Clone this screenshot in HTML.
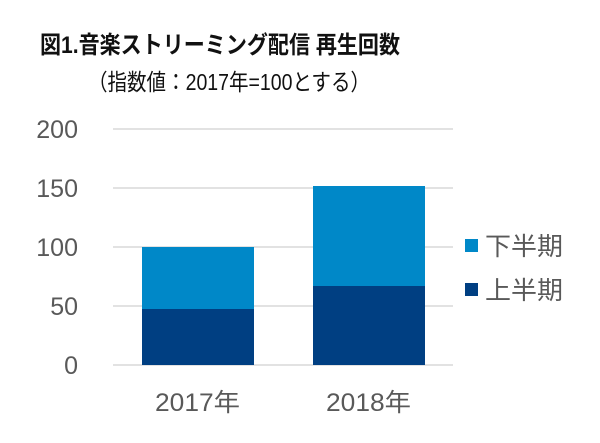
<!DOCTYPE html>
<html><head><meta charset="utf-8"><style>
body{margin:0;background:#fff;}
svg text{font-family:"Liberation Sans","Noto Sans CJK JP",sans-serif;}
</style></head><body>
<svg width="600" height="438" viewBox="0 0 600 438" xmlns="http://www.w3.org/2000/svg">
<rect width="600" height="438" fill="#fff"/>
<text x="40" y="53" font-size="24" font-weight="bold" fill="#111" textLength="360" lengthAdjust="spacingAndGlyphs">図1.音楽ストリーミング配信 再生回数</text>
<text x="88" y="90" font-size="23" fill="#111" textLength="282" lengthAdjust="spacingAndGlyphs">（指数値：2017年=100とする）</text>
<g stroke="#d9d9d9" stroke-width="1.5">
<line x1="113" y1="129" x2="453" y2="129"/>
<line x1="113" y1="188" x2="453" y2="188"/>
<line x1="113" y1="247" x2="453" y2="247"/>
<line x1="113" y1="306" x2="453" y2="306"/>
<line x1="113" y1="365" x2="453" y2="365"/>
</g>
<g font-size="25" fill="#595959" text-anchor="end">
<text x="78" y="138">200</text>
<text x="78" y="197">150</text>
<text x="78" y="256">100</text>
<text x="78" y="315">50</text>
<text x="78" y="374">0</text>
</g>
<rect x="142" y="247" width="112" height="62" fill="#0088c8"/>
<rect x="142" y="309" width="112" height="56" fill="#003f82"/>
<rect x="313" y="186" width="112" height="100" fill="#0088c8"/>
<rect x="313" y="286" width="112" height="79" fill="#003f82"/>
<g font-size="25" fill="#595959">
<text x="155" y="411" textLength="85" lengthAdjust="spacingAndGlyphs">2017年</text>
<text x="326" y="411" textLength="85" lengthAdjust="spacingAndGlyphs">2018年</text>
</g>
<rect x="465" y="239" width="13" height="13" fill="#0088c8"/>
<rect x="465" y="283" width="13" height="13" fill="#003f82"/>
<g font-size="25" fill="#595959">
<text x="485" y="255" textLength="78" lengthAdjust="spacingAndGlyphs">下半期</text>
<text x="485" y="299" textLength="78" lengthAdjust="spacingAndGlyphs">上半期</text>
</g>
</svg>
</body></html>
